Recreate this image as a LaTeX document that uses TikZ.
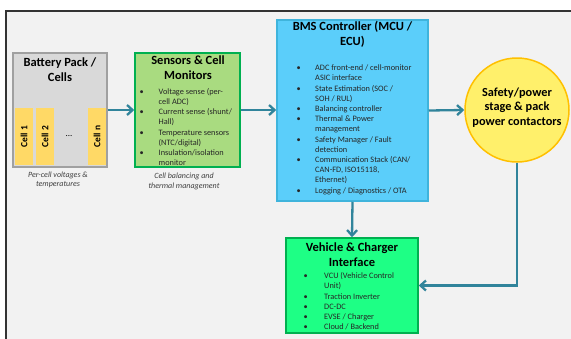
\documentclass[tikz,border=0pt]{standalone}
\usepackage{fontspec}
\setmainfont{Carlito}
\usetikzlibrary{arrows.meta}
\definecolor{framegray}{HTML}{333333}
\definecolor{bgfill}{HTML}{F2F2F2}
\definecolor{battfill}{HTML}{D9D9D9}
\definecolor{battborder}{HTML}{A0A0A0}
\definecolor{cellfill}{HTML}{FFD966}
\definecolor{sensfill}{HTML}{A9DB80}
\definecolor{greenborder}{HTML}{00B050}
\definecolor{bmsfill}{HTML}{5BCEFA}
\definecolor{bmsborder}{HTML}{3FB4DC}
\definecolor{circfill}{HTML}{FFF06B}
\definecolor{circborder}{HTML}{FFC000}
\definecolor{vehfill}{HTML}{1EFF85}
\definecolor{arrowcol}{HTML}{31849B}
\definecolor{capcol}{HTML}{404040}
\newcommand{\titlefont}{\fontsize{12.5}{15}\bfseries\selectfont}
\newcommand{\listfont}{\fontsize{8.3}{10.2}\selectfont}
\newcommand{\capfont}{\fontsize{8}{9.5}\itshape\selectfont}
\tikzset{
  box/.style={draw, line width=1.5pt, inner sep=0pt},
  titletext/.style={align=center, font=\titlefont, inner sep=0pt},
  listtext/.style={align=left, font=\listfont, inner sep=0pt, anchor=north west, text=black!85},
  captext/.style={align=center, font=\capfont, inner sep=0pt, text=capcol},
  celltext/.style={fill=cellfill, rotate=90, minimum width=57pt, minimum height=17.5pt, inner sep=0pt, font=\fontsize{9.5}{11}\bfseries\selectfont},
  conn/.style={draw=arrowcol, line width=2.3pt, -{Straight Barb[length=5.5pt,width=10pt]}}
}
\begin{document}
\begin{tikzpicture}[x=1pt,y=-1pt]
\useasboundingbox (0,0) rectangle (571,338);
\clip (0,0) rectangle (571,338);
\fill[white] (0,0) rectangle (571,338);
\draw[framegray, fill=bgfill, line width=2pt] (6,11) rectangle (600,360);

% Battery pack
\node[box, draw=battborder, fill=battfill, minimum width=94pt, minimum height=114pt] (batt) at (60,110) {};
\node[titletext] (batttitle) at (60,69.5) {Battery Pack /\\Cells};
\node[celltext] (c1) at (24,136.5) {Cell 1};
\node[celltext] (c2) at (45,136.5) {Cell 2};
\node[celltext] (cn) at (97,136.5) {Cell n};
\node[inner sep=0pt, font=\fontsize{9}{11}\selectfont] (dots) at (69,136) {...};
\node[captext] (battcap) at (58,180) {Per-cell voltages \&\\temperatures};

% Sensors
\node[box, draw=greenborder, fill=sensfill, minimum width=105pt, minimum height=114pt] (sens) at (187.5,110) {};
\node[titletext] (senstitle) at (188,67.5) {Sensors \& Cell\\Monitors};
\node[listtext] (senslist) at (139.5,87) {\begin{tabular}{@{}p{19pt}@{}l@{}}
\textbullet & Voltage sense (per-\\
 & cell ADC)\\
\textbullet & Current sense (shunt/\\
 & Hall)\\
\textbullet & Temperature sensors\\
 & (NTC/digital)\\
\textbullet & Insulation/isolation\\
 & monitor
\end{tabular}};
\node[captext] (senscap) at (184,181.5) {Cell balancing and\\thermal management};

% BMS
\node[box, draw=bmsborder, fill=bmsfill, minimum width=151pt, minimum height=181pt] (bms) at (352.5,110.5) {};
\node[titletext] (bmstitle) at (352.5,34.5) {BMS Controller (MCU /\\ECU)};
\node[listtext] (bmslist) at (296.5,63.3) {\begin{tabular}{@{}p{18.5pt}@{}l@{}}
\textbullet & ADC front-end / cell-monitor\\
 & ASIC interface\\
\textbullet & State Estimation (SOC /\\
 & SOH / RUL)\\
\textbullet & Balancing controller\\
\textbullet & Thermal \& Power\\
 & management\\
\textbullet & Safety Manager / Fault\\
 & detection\\
\textbullet & Communication Stack (CAN/\\
 & CAN-FD, ISO15118,\\
 & Ethernet)\\
\textbullet & Logging / Diagnostics / OTA
\end{tabular}};

% Safety circle
\node[circle, draw=circborder, fill=circfill, line width=1.5pt, minimum size=104pt, inner sep=0pt] (circ) at (517,110) {};
\node[titletext, font=\fontsize{12.3}{14.5}\bfseries\selectfont] (circtext) at (517,107.5) {Safety/power\\stage \& pack\\power contactors};

% Vehicle
\node[box, draw=greenborder, fill=vehfill, minimum width=132pt, minimum height=95pt] (veh) at (352,285.5) {};
\node[titletext] (vehtitle) at (352,254.5) {Vehicle \& Charger\\Interface};
\node[listtext] (vehlist) at (303.5,271.3) {\begin{tabular}{@{}p{20.5pt}@{}l@{}}
\textbullet & VCU (Vehicle Control\\
 & Unit)\\
\textbullet & Traction Inverter\\
\textbullet & DC-DC\\
\textbullet & EVSE / Charger\\
\textbullet & Cloud / Backend
\end{tabular}};

% Connectors
\draw[conn] (batt.east) -- (sens.west);
\draw[conn] (sens.east) -- (bms.west |- sens.east);
\draw[conn] (bms.east) -- (circ.west);
\draw[conn] (bms.south) -- (veh.north);
\draw[conn] (circ.south) |- (veh.east);
\end{tikzpicture}
\end{document}
